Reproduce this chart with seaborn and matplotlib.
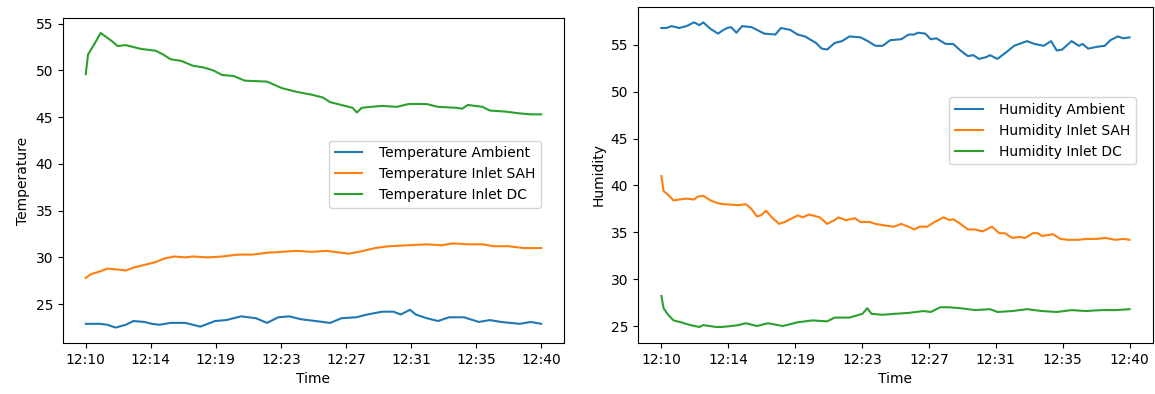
import matplotlib
matplotlib.use("Agg")
import matplotlib.pyplot as plt
import seaborn as sns
import numpy as np

# ---------------- data (minutes after 12:10) ----------------
tick_labels = ["12:10", "12:14", "12:19", "12:23", "12:27", "12:31", "12:35", "12:40"]
yticks = [25, 30, 35, 40, 45, 50, 55]

t_amb_min = [0, 0.93, 1.42, 1.96, 2.64, 3.13, 3.87, 4.36, 4.85, 5.58, 6.56, 7.54, 8.52, 9.25,
             10.23, 11.21, 11.94, 12.68, 13.41, 14.14, 15.12, 16.10, 16.84, 17.81, 18.55, 19.53,
             20.26, 20.75, 21.36, 21.73, 22.46, 23.20, 23.93, 24.91, 25.89, 26.62, 27.36, 28.58,
             29.31, 30]
t_amb_val = [22.9, 22.9, 22.8, 22.5, 22.8, 23.2, 23.1, 22.9, 22.8, 23.0, 23.0, 22.6, 23.2, 23.3,
             23.7, 23.5, 23.0, 23.6, 23.7, 23.4, 23.2, 23.0, 23.5, 23.6, 23.9, 24.2, 24.2, 23.9,
             24.4, 23.9, 23.5, 23.2, 23.6, 23.6, 23.1, 23.3, 23.1, 22.9, 23.1, 22.9]

t_sah_min = [0, 0.32, 0.93, 1.42, 2.15, 2.64, 3.13, 3.62, 4.60, 5.21, 5.82, 6.56, 7.05, 8.03,
             9.00, 9.98, 10.96, 11.94, 12.92, 13.90, 14.88, 15.86, 16.35, 17.33, 18.30, 19.04,
             20.02, 21.24, 22.46, 23.44, 24.18, 25.16, 26.13, 26.87, 27.85, 28.82, 30]
t_sah_val = [27.8, 28.2, 28.5, 28.8, 28.7, 28.6, 28.9, 29.1, 29.5, 29.9, 30.1, 30.0, 30.1, 30.0,
             30.1, 30.3, 30.3, 30.5, 30.6, 30.7, 30.6, 30.7, 30.6, 30.4, 30.7, 31.0, 31.2, 31.3,
             31.4, 31.3, 31.5, 31.4, 31.4, 31.2, 31.2, 31.0, 31.0]

t_dc_min = [0, 0.15, 0.56, 0.98, 1.66, 2.10, 2.64, 3.62, 4.60, 5.09, 5.58, 6.31, 7.05, 7.78,
            8.39, 9.00, 9.74, 10.47, 11.94, 12.92, 13.90, 14.88, 15.61, 16.10, 17.08, 17.57,
            17.86, 18.18, 18.79, 19.53, 20.51, 21.24, 22.46, 23.20, 24.42, 24.79, 25.16, 26.13,
            26.62, 27.60, 28.58, 29.31, 30]
t_dc_val = [49.6, 51.7, 52.8, 54.0, 53.2, 52.6, 52.7, 52.3, 52.1, 51.7, 51.2, 51.0, 50.5, 50.3,
            50.0, 49.5, 49.4, 48.9, 48.8, 48.1, 47.7, 47.4, 47.1, 46.6, 46.2, 46.0, 45.5, 46.0,
            46.1, 46.2, 46.1, 46.4, 46.4, 46.1, 46.0, 45.9, 46.3, 46.1, 45.7, 45.6, 45.4, 45.3, 45.3]

h_amb_min = [0, 0.31, 0.66, 1.14, 1.61, 2.09, 2.44, 2.68, 3.15, 3.63, 3.98, 4.22, 4.46, 4.81,
             5.17, 5.76, 6.24, 6.59, 7.30, 7.66, 8.25, 8.73, 9.20, 9.91, 10.27, 10.62, 11.10,
             11.57, 12.05, 12.76, 13.23, 13.71, 14.18, 14.66, 15.37, 15.84, 16.20, 16.43, 16.91,
             17.26, 17.62, 18.21, 18.69, 19.16, 19.64, 19.99, 20.35, 20.82, 21.06, 21.53, 22.01,
             22.60, 23.43, 23.90, 24.50, 24.97, 25.33, 25.68, 26.28, 26.75, 26.99, 27.34, 27.94,
             28.41, 28.77, 29.24, 29.60, 30]
h_amb_val = [56.8, 56.8, 57.0, 56.8, 57.0, 57.4, 57.1, 57.4, 56.7, 56.2,
             56.6, 56.8, 56.9, 56.3, 57.0, 56.9, 56.5, 56.2, 56.1, 56.8,
             56.6, 56.1, 55.9, 55.2, 54.6, 54.5, 55.2, 55.4, 55.9, 55.8,
             55.4, 54.9, 54.9, 55.5, 55.6, 56.1, 56.1, 56.3, 56.2, 55.6,
             55.7, 55.1, 55.1, 54.4, 53.8, 53.9, 53.5, 53.7, 53.9, 53.5,
             54.1, 54.9, 55.4, 55.1, 54.9, 55.4, 54.4, 54.5, 55.4, 54.9,
             55.1, 54.6, 54.8, 54.9, 55.5, 55.9, 55.7, 55.8]

h_sah_min = [0, 0.14, 0.43, 0.78, 1.14, 1.61, 2.09, 2.32, 2.68, 3.15, 3.63, 3.98, 4.93, 5.41,
             5.76, 6.12, 6.36, 6.71, 7.07, 7.54, 7.90, 8.73, 9.08, 9.44, 10.15, 10.62, 11.10,
             11.34, 11.81, 12.40, 12.76, 13.35, 13.71, 14.42, 14.89, 15.37, 15.96, 16.20, 16.55,
             17.03, 17.50, 18.09, 18.45, 18.69, 19.16, 19.64, 20.11, 20.58, 21.18, 21.65, 22.01,
             22.48, 22.96, 23.31, 23.79, 24.14, 24.38, 24.73, 25.09, 25.56, 26.04, 26.75, 27.22,
             27.94, 28.41, 29.12, 29.60, 30]
h_sah_val = [41.0, 39.4, 39.0, 38.4, 38.5, 38.6, 38.5, 38.8, 38.9, 38.4,
             38.1, 38.0, 37.9, 38.0, 37.5, 36.7, 36.8, 37.3, 36.6, 35.9,
             36.1, 36.8, 36.6, 36.9, 36.6, 35.9, 36.3, 36.6, 36.3, 36.5,
             36.1, 36.1, 35.9, 35.7, 35.6, 35.9, 35.5, 35.3, 35.6, 35.6,
             36.1, 36.6, 36.3, 36.4, 35.9, 35.3, 35.3, 35.1, 35.6, 34.9,
             34.9, 34.4, 34.5, 34.4, 34.9, 34.9, 34.6, 34.7, 34.8, 34.3,
             34.2, 34.2, 34.3, 34.3, 34.4, 34.2, 34.3, 34.2]

h_dc_min = [0, 0.14, 0.43, 0.78, 1.26, 1.85, 2.44, 2.68, 3.51, 3.87, 4.46, 4.93, 5.41, 6.12,
            6.83, 7.78, 8.73, 9.68, 10.62, 11.10, 12.05, 12.88, 13.19, 13.47, 14.18, 14.89,
            15.84, 16.79, 17.26, 17.86, 18.45, 19.16, 20.11, 21.06, 21.53, 22.48, 23.43, 24.38,
            25.33, 26.28, 27.22, 28.17, 29.12, 30]
h_dc_val = [28.2, 26.9, 26.2, 25.6, 25.4, 25.1, 24.9, 25.1, 24.9, 24.9,
            25.0, 25.1, 25.3, 25.0, 25.3, 25.0, 25.4, 25.6, 25.5, 25.9,
            25.9, 26.3, 26.9, 26.3, 26.2, 26.3, 26.4, 26.6, 26.5, 27.0,
            27.0, 26.9, 26.7, 26.8, 26.5, 26.6, 26.8, 26.6, 26.5, 26.7,
            26.6, 26.7, 26.7, 26.8]

# ---------------- plot ----------------
plt.rcParams['font.family'] = ['DejaVu Sans']
plt.rcParams['font.size'] = 10
colors = sns.color_palette("tab10")

fig = plt.figure(figsize=(11.55, 3.94), dpi=100)
ax1 = fig.add_axes([63 / 1155, 51 / 394, 501 / 1155, 325 / 394])
ax2 = fig.add_axes([638 / 1155, 51 / 394, 515 / 1155, 336 / 394])

sns.lineplot(x=t_amb_min, y=t_amb_val, ax=ax1, color=colors[0], label="Temperature Ambient", sort=False)
sns.lineplot(x=t_sah_min, y=t_sah_val, ax=ax1, color=colors[1], label="Temperature Inlet SAH", sort=False)
sns.lineplot(x=t_dc_min, y=t_dc_val, ax=ax1, color=colors[2], label="Temperature Inlet DC", sort=False)

sns.lineplot(x=h_amb_min, y=h_amb_val, ax=ax2, color=colors[0], label="Humidity Ambient", sort=False)
sns.lineplot(x=h_sah_min, y=h_sah_val, ax=ax2, color=colors[1], label="Humidity Inlet SAH", sort=False)
sns.lineplot(x=h_dc_min, y=h_dc_val, ax=ax2, color=colors[2], label="Humidity Inlet DC", sort=False)

tick_pos = np.linspace(0, 30, len(tick_labels))
for ax, ylab, ylim in [(ax1, "Temperature", (20.85, 55.6)), (ax2, "Humidity", (23.19, 59.04))]:
    ax.set_xlim(-1.5, 31.5)
    ax.set_ylim(*ylim)
    ax.set_xticks(tick_pos)
    ax.set_xticklabels(tick_labels)
    ax.set_yticks(yticks)
    ax.set_xlabel("Time")
    ax.set_ylabel(ylab)

ax1.legend(loc="center right", bbox_to_anchor=(0.954, 0.52), borderaxespad=0,
           handletextpad=1.2)
ax2.legend(loc="center right", bbox_to_anchor=(0.967, 0.631), borderaxespad=0,
           handletextpad=1.2)

fig.savefig("out.png", dpi=100)
